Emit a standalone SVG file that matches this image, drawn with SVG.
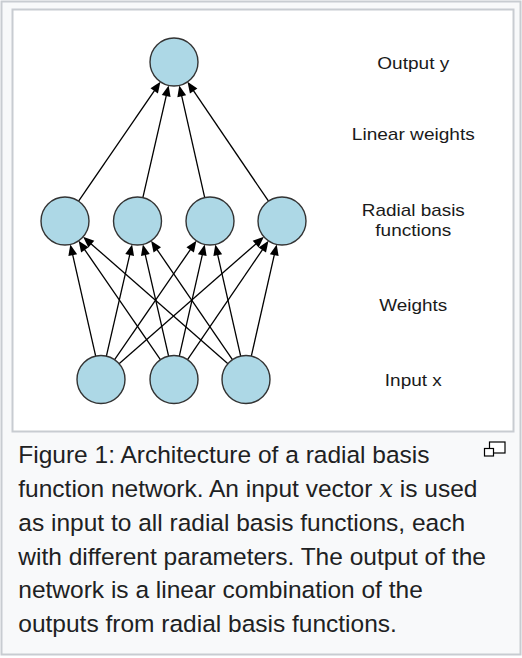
<svg xmlns="http://www.w3.org/2000/svg" width="522" height="658" viewBox="0 0 522 658">
<defs>
<style>
.node{fill:#add8e6;stroke:#333;stroke-width:1.4}
.edge{stroke:#000;stroke-width:1.3;fill:none;marker-end:url(#ah)}
.lbl{font-family:"Liberation Sans",Arial,sans-serif;font-size:17px;fill:#1a1a1a;text-anchor:middle}
.cap{font-family:"Liberation Sans",Arial,sans-serif;font-size:24.5px;fill:#202122}
</style>
<marker id="ah" markerUnits="userSpaceOnUse" markerWidth="11" markerHeight="9" refX="1" refY="4.5" orient="auto" overflow="visible">
<path d="M0,0 L11,4.5 L0,9 z" fill="#000"/>
</marker>
</defs>
<rect x="1.5" y="1.5" width="519" height="653" fill="#f8f9fa" stroke="#c8ccd1" stroke-width="2"/>
<rect x="12.5" y="9.5" width="501" height="422" fill="#fff" stroke="#c8ccd1" stroke-width="2"/>
<g id="connectors">
<line class="edge" x1="78.57" y1="201.2" x2="154.78" y2="90.04"/>
<line class="edge" x1="142.87" y1="197.61" x2="166.39" y2="95.14"/>
<line class="edge" x1="204.7" y1="197.59" x2="181.51" y2="95.16"/>
<line class="edge" x1="268.51" y1="201.15" x2="193.1" y2="90.12"/>
<line class="edge" x1="95.68" y1="356.1" x2="72.53" y2="254.15"/>
<line class="edge" x1="106.39" y1="356.11" x2="129.87" y2="254.13"/>
<line class="edge" x1="114.6" y1="359.72" x2="190.74" y2="249.02"/>
<line class="edge" x1="119.06" y1="363.69" x2="256.42" y2="243.4"/>
<line class="edge" x1="160.4" y1="359.72" x2="84.26" y2="249.02"/>
<line class="edge" x1="168.61" y1="356.11" x2="145.13" y2="254.13"/>
<line class="edge" x1="179.32" y1="356.1" x2="202.47" y2="254.15"/>
<line class="edge" x1="187.51" y1="359.67" x2="262.85" y2="249.1"/>
<line class="edge" x1="227.94" y1="363.69" x2="90.58" y2="243.4"/>
<line class="edge" x1="232.44" y1="359.7" x2="156.71" y2="249.06"/>
<line class="edge" x1="240.68" y1="356.1" x2="217.53" y2="254.15"/>
<line class="edge" x1="251.32" y1="356.1" x2="274.47" y2="254.15"/>
</g>
<g id="out"><circle class="node" cx="174" cy="62" r="24"/></g>
<g id="rbf1"><circle class="node" cx="65" cy="221" r="24"/></g>
<g id="rbf2"><circle class="node" cx="137.5" cy="221" r="24"/></g>
<g id="rbf3"><circle class="node" cx="210" cy="221" r="24"/></g>
<g id="rbf4"><circle class="node" cx="282" cy="221" r="24"/></g>
<g id="in1"><circle class="node" cx="101" cy="379.5" r="24"/></g>
<g id="in2"><circle class="node" cx="174" cy="379.5" r="24"/></g>
<g id="in3"><circle class="node" cx="246" cy="379.5" r="24"/></g>
<g id="labels">
<text class="lbl" x="413.3" y="68.5" textLength="72" lengthAdjust="spacingAndGlyphs">Output y</text>
<text class="lbl" x="413.3" y="140.2" textLength="123" lengthAdjust="spacingAndGlyphs">Linear weights</text>
<text class="lbl" x="413.3" y="216.2" textLength="103" lengthAdjust="spacingAndGlyphs">Radial basis</text>
<text class="lbl" x="413.3" y="236.2" textLength="76" lengthAdjust="spacingAndGlyphs">functions</text>
<text class="lbl" x="413.3" y="311.2" textLength="68" lengthAdjust="spacingAndGlyphs">Weights</text>
<text class="lbl" x="413.3" y="386.2" textLength="57" lengthAdjust="spacingAndGlyphs">Input x</text>
</g>
<g id="caption">
<text class="cap" x="18.3" y="462.7">Figure 1: Architecture of a radial basis</text>
<text class="cap" x="18.3" y="496.7">function network. An input vector <tspan font-family="'DejaVu Serif','Liberation Serif',serif" font-style="italic">x</tspan> is used</text>
<text class="cap" x="18.3" y="530.7">as input to all radial basis functions, each</text>
<text class="cap" x="18.3" y="564.7">with different parameters. The output of the</text>
<text class="cap" x="18.3" y="598.3">network is a linear combination of the</text>
<text class="cap" x="18.3" y="632.3">outputs from radial basis functions.</text>
</g>
<g id="magnify" fill="#fff" stroke="#000" stroke-width="1.2">
<rect x="489.5" y="442" width="15.5" height="11"/>
<rect x="484.5" y="448.5" width="9" height="7.5"/>
</g>
</svg>
